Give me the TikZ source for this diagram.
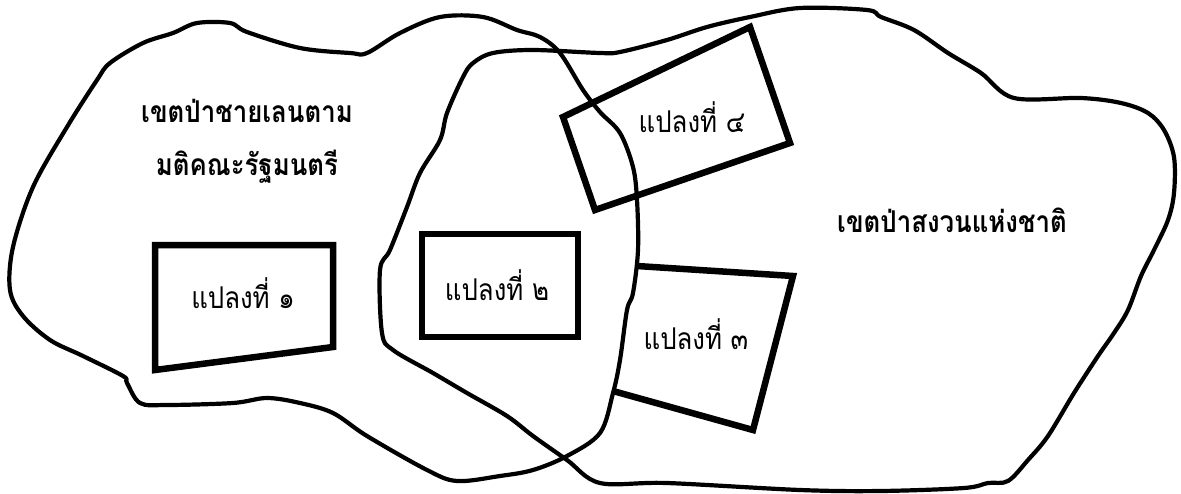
\documentclass[tikz,border=0pt]{standalone}
\usepackage{fontspec}
\newfontfamily\thaifont[Script=Thai, FakeStretch=0.86]{Loma}
\usetikzlibrary{calc, positioning}

\begin{document}
\begin{tikzpicture}[
        x=1pt, y=-1pt,
        zone/.style={
            draw=black,
            line width=4.2pt,
            line join=round
        },
        parcel/.style={
            draw=black,
            line width=6.5pt,
            line join=miter
        },
        zonename/.style={
            font={\thaifont\bfseries\fontsize{30}{53}\selectfont},
            align=center,
            inner sep=0pt,
            anchor=base
        },
        parcelname/.style={
            font={\thaifont\fontsize{30}{34}\selectfont},
            inner sep=0pt,
            anchor=base
        }
    ]

    \useasboundingbox (0,0) rectangle (1181,493);

    % mangrove forest zone (left)
    \draw[zone] plot[smooth cycle, tension=0.55] coordinates {
        (13,247) (33,187) (67,127) (97,80) (110,63) (143,43) (173,33)
        (197,23) (230,23) (247,32) (300,48) (350,53) (367,53) (400,33)
        (440,17) (483,17) (517,30) (540,37) (560,53) (583,90) (600,112)
        (620,133) (633,167) (637,200) (638,250) (633,293) (627,310)
        (620,360) (613,393) (600,433) (567,456) (533,470) (500,476)
        (457,481) (427,470) (367,436) (333,413) (300,403) (267,398)
        (233,403) (167,405) (140,403) (127,383) (123,376) (83,356)
        (50,340) (23,316) (10,290)
    };

    % national reserved forest zone (right)
    \draw[zone] plot[smooth cycle, tension=0.55] coordinates {
        (390,250) (407,207) (420,173) (440,140) (447,113) (463,77)
        (473,63) (493,53) (533,50) (600,53) (620,52) (667,40) (707,27)
        (750,17) (800,8) (867,10) (881,17) (914,30) (948,53) (981,73)
        (1014,98) (1081,98) (1121,103) (1148,113) (1164,130) (1174,157)
        (1174,193) (1168,220) (1154,250) (1141,276) (1128,310)
        (1114,333) (1098,356) (1074,393) (1048,436) (1028,460)
        (1008,481) (988,483) (964,488) (881,491) (800,490) (667,483)
        (600,483) (567,460) (533,436) (507,416) (467,393) (433,373)
        (393,350) (382,333) (380,270)
    };

    % parcels
    \draw[parcel] (155,245) -- (333,245) -- (333,347) -- (155,370) -- cycle;
    \draw[parcel] (422,234) rectangle (578,337);
    \draw[parcel] (637,266) -- (793,276) -- (753,430) -- (613,391);
    \draw[parcel] (563,117) -- (750,27) -- (790,143) -- (595,210) -- cycle;

    % zone names
    \node[zonename] (mangrove) at (247,175) {เขตป่าชายเลนตาม\\มติคณะรัฐมนตรี};
    \node[zonename] (reserve) at (952,232) {เขตป่าสงวนแห่งชาติ};

    % parcel names
    \node[parcelname] (p1) at (243,308) {แปลงที่ ๑};
    \node[parcelname] (p2) at (497,300) {แปลงที่ ๒};
    \node[parcelname] (p3) at (696,349) {แปลงที่ ๓};
    \node[parcelname] (p4) at (692,132) {แปลงที่ ๔};

\end{tikzpicture}
\end{document}
